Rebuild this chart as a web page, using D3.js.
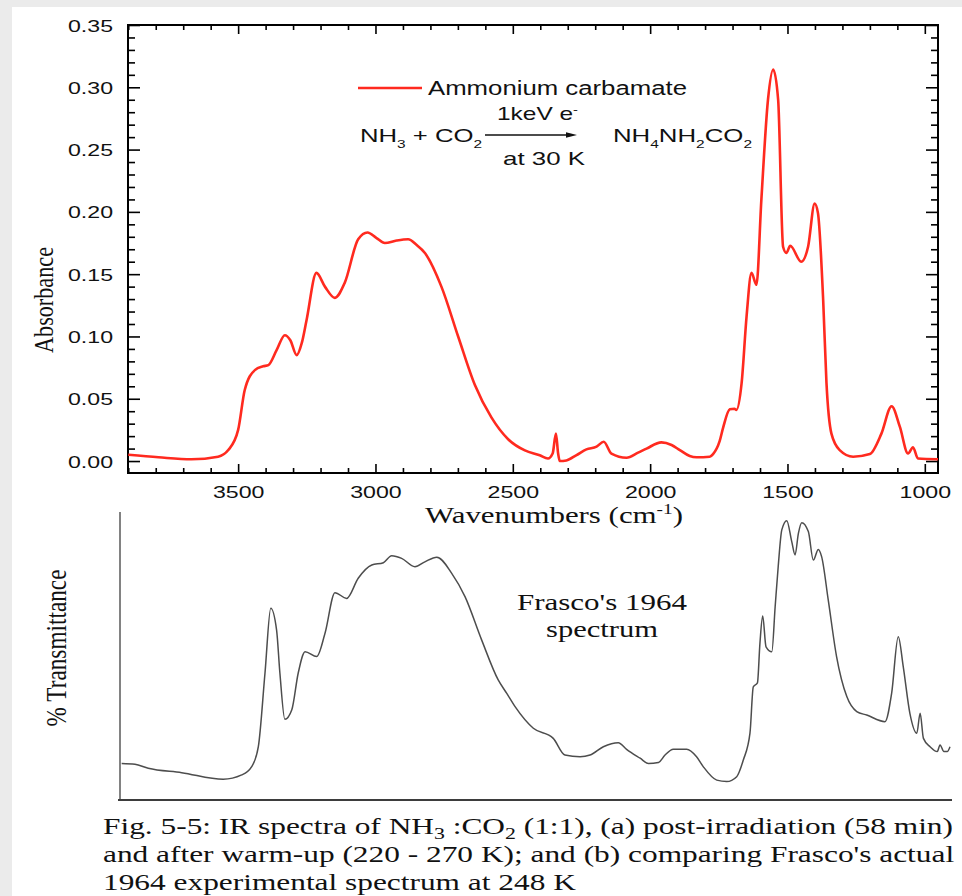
<!DOCTYPE html>
<html>
<head>
<meta charset="utf-8">
<script src="https://cdn.jsdelivr.net/npm/d3@7"></script>
<style>
  html, body { margin: 0; padding: 0; background: #ffffff; }
  svg { display: block; }
</style>
</head>
<body>
<script>
// ---------- DATA ----------
// (a) Ammonium carbamate spectrum: wavenumber (cm-1) and absorbance
const absWavenumber = [3900, 3790, 3670, 3573, 3536, 3500, 3476, 3439, 3409, 3390, 3360, 3330, 3310, 3287, 3268, 3251, 3215, 3184, 3148, 3112, 3063, 3029, 2996, 2966, 2923, 2881, 2851, 2820, 2760, 2699, 2638, 2578, 2517, 2456, 2402, 2372, 2355, 2343, 2335, 2329, 2305, 2268, 2232, 2195, 2169, 2141, 2086, 2044, 2013, 1959, 1922, 1892, 1856, 1831, 1783, 1771, 1747, 1734, 1710, 1693, 1686, 1667, 1649, 1631, 1613, 1595, 1571, 1552, 1534, 1516, 1504, 1490, 1450, 1425, 1401, 1389, 1370, 1358, 1340, 1310, 1261, 1200, 1158, 1121, 1091, 1061, 1043, 1025, 952];
const absValue =      [0.005, 0.003, 0.0014, 0.0035, 0.0088, 0.025, 0.057, 0.073, 0.076, 0.077, 0.089, 0.101, 0.097, 0.085, 0.095, 0.113, 0.151, 0.140, 0.131, 0.143, 0.178, 0.1835, 0.179, 0.175, 0.177, 0.178, 0.1736, 0.167, 0.140, 0.100, 0.061, 0.035, 0.0175, 0.0085, 0.0046, 0.002, 0.006, 0.022, 0.006, 0.000, 0.0005, 0.0048, 0.0094, 0.0115, 0.0155, 0.006, 0.0027, 0.0067, 0.010, 0.015, 0.0129, 0.0088, 0.004, 0.003, 0.0035, 0.0056, 0.016, 0.027, 0.0415, 0.042, 0.041, 0.0625, 0.116, 0.151, 0.1415, 0.210, 0.290, 0.3143, 0.290, 0.172, 0.167, 0.1728, 0.160, 0.172, 0.2066, 0.199, 0.129, 0.0625, 0.022, 0.0088, 0.0035, 0.0056, 0.022, 0.044, 0.0276, 0.006, 0.011, 0.002, 0.0014];

// (b) Frasco's 1964 spectrum: approximate wavenumber and relative trace height (%)
const frascoWavenumber = [3994, 3946, 3898, 3777, 3627, 3560, 3524, 3500, 3476, 3455, 3434, 3422, 3404, 3379, 3356, 3331, 3289, 3259, 3223, 3181, 3139, 3090, 3048, 3018, 2982, 2934, 2898, 2855, 2801, 2753, 2693, 2633, 2602, 2572, 2506, 2434, 2392, 2337, 2301, 2253, 2199, 2169, 2120, 2090, 2054, 2030, 2000, 1952, 1916, 1892, 1843, 1807, 1771, 1747, 1723, 1711, 1696, 1687, 1677, 1665, 1644, 1632, 1621, 1608, 1590, 1572, 1560, 1548, 1536, 1512, 1494, 1476, 1464, 1440, 1410, 1373, 1337, 1301, 1235, 1211, 1187, 1169, 1145, 1120, 1108, 1096, 1072, 1046, 1036, 1022, 1010, 1000];
const frascoValue =      [12.7, 12.4, 11.0, 9.5, 7.2, 8.7, 11.6, 18.5, 44.0, 66.6, 59.0, 44.0, 28.0, 31.3, 44.0, 51.5, 49.8, 57.9, 72.0, 70.0, 77.0, 81.6, 82.4, 84.8, 83.9, 81.0, 82.7, 84.3, 78.7, 70.6, 55.6, 41.7, 37.0, 32.4, 24.9, 21.4, 15.6, 15.0, 15.6, 18.5, 19.9, 17.6, 14.5, 12.7, 13.0, 15.6, 17.6, 17.6, 15.0, 11.6, 6.9, 6.4, 8.1, 13.9, 23.2, 39.3, 40.7, 54.4, 63.9, 53.2, 51.5, 67.1, 81.0, 93.8, 97.0, 89.7, 85.1, 92.6, 96.3, 93.2, 83.3, 87.0, 84.5, 69.4, 49.8, 35.9, 30.7, 29.5, 27.2, 37.0, 56.7, 46.3, 30.1, 23.2, 30.1, 21.4, 18.5, 16.8, 19.1, 16.8, 16.8, 18.5];

// Axis ticks
const yMajorTicks = [0.00, 0.05, 0.10, 0.15, 0.20, 0.25, 0.30, 0.35];
const yMinorTicks = [0.01, 0.02, 0.03, 0.04, 0.06, 0.07, 0.08, 0.09, 0.11, 0.12, 0.13, 0.14, 0.16, 0.17, 0.18, 0.19, 0.21, 0.22, 0.23, 0.24, 0.26, 0.27, 0.28, 0.29, 0.31, 0.32, 0.33, 0.34];
const xMajorTicks = [3500, 3000, 2500, 2000, 1500, 1000];
const xMinorTicks = [3900, 3800, 3700, 3600, 3400, 3300, 3200, 3100, 2900, 2800, 2700, 2600, 2400, 2300, 2200, 2100, 1900, 1800, 1700, 1600, 1400, 1300, 1200, 1100];

// Texts
const legendLabel = "Ammonium carbamate";
const xTitle = "Wavenumbers (cm";
const yTitleTop = "Absorbance";
const yTitleBottom = "% Transmittance";
const frascoLabel = ["Frasco's 1964", "spectrum"];

// ---------- LAYOUT ----------
const W = 962, H = 896;
const tp = { left: 128, right: 938, top: 25, bottom: 473 };
const bt = { left: 120, right: 950, top: 512, bottom: 800 };
const RED = "#ff2a1f";
const GREY = "#4d4d4d";
const SANS = "'Liberation Sans', Arial, sans-serif";
const SERIF = "'Liberation Serif', 'Times New Roman', serif";

const svg = d3.select("body").append("svg").attr("width", W).attr("height", H);

// faint slide background edges
svg.append("rect").attr("width", W).attr("height", H).attr("fill", "#ebebeb");
svg.append("rect").attr("x", 12).attr("y", 7).attr("width", W - 12).attr("height", H - 7).attr("fill", "#ffffff");

function stretch(sel, k) {
  sel.each(function () {
    const L = this.getComputedTextLength();
    this.setAttribute("textLength", L * k);
    this.setAttribute("lengthAdjust", "spacingAndGlyphs");
  });
}
function fitWidth(sel, w) {
  sel.each(function () {
    this.setAttribute("textLength", w);
    this.setAttribute("lengthAdjust", "spacingAndGlyphs");
  });
}

// ---------- TOP CHART ----------
const x = d3.scaleLinear().domain([3901, 952]).range([tp.left, tp.right]);
const y = d3.scaleLinear().domain([-0.0096, 0.35]).range([tp.bottom, tp.top]);

const gTop = svg.append("g");

function styleAxis(g) {
  g.select(".domain").remove();
  g.selectAll(".tick line").attr("stroke", "#000").attr("stroke-width", 1.6);
}
const fmt2 = d3.format(".2f");

gTop.append("g").attr("transform", `translate(${tp.left},0)`)
  .call(d3.axisLeft(y).tickValues(yMajorTicks).tickSize(-12).tickPadding(15).tickFormat(fmt2))
  .call(styleAxis)
  .call(g => g.selectAll("text").attr("font-family", SANS).attr("font-size", 17).attr("fill", "#111").attr("dy", "0.36em"));
gTop.append("g").attr("transform", `translate(${tp.left},0)`)
  .call(d3.axisLeft(y).tickValues(yMinorTicks).tickSize(-7).tickFormat(""))
  .call(styleAxis);
gTop.append("g").attr("transform", `translate(${tp.right},0)`)
  .call(d3.axisRight(y).tickValues(yMajorTicks).tickSize(-12).tickFormat(""))
  .call(styleAxis);
gTop.append("g").attr("transform", `translate(${tp.right},0)`)
  .call(d3.axisRight(y).tickValues(yMinorTicks).tickSize(-7).tickFormat(""))
  .call(styleAxis);

gTop.append("g").attr("transform", `translate(0,${tp.bottom})`)
  .call(d3.axisBottom(x).tickValues(xMajorTicks).tickSize(-9).tickPadding(13).tickFormat(d3.format("d")))
  .call(styleAxis)
  .call(g => g.selectAll("text").attr("font-family", SANS).attr("font-size", 17).attr("fill", "#111"));
gTop.append("g").attr("transform", `translate(0,${tp.bottom})`)
  .call(d3.axisBottom(x).tickValues(xMinorTicks).tickSize(-5).tickFormat(""))
  .call(styleAxis);
gTop.append("g").attr("transform", `translate(0,${tp.top})`)
  .call(d3.axisTop(x).tickValues(xMajorTicks).tickSize(-9).tickFormat(""))
  .call(styleAxis);
gTop.append("g").attr("transform", `translate(0,${tp.top})`)
  .call(d3.axisTop(x).tickValues(xMinorTicks).tickSize(-5).tickFormat(""))
  .call(styleAxis);

gTop.selectAll(".tick text").call(stretch, 1.36);

// frame
gTop.append("rect")
  .attr("x", tp.left).attr("y", tp.top)
  .attr("width", tp.right - tp.left).attr("height", tp.bottom - tp.top)
  .attr("fill", "none").attr("stroke", "#000").attr("stroke-width", 2);

// spectrum line
const absData = absWavenumber.map((w, i) => ({ w, v: absValue[i] }));
const lineTop = d3.line().x(d => x(d.w)).y(d => y(d.v)).curve(d3.curveMonotoneX);
gTop.append("path").datum(absData)
  .attr("d", lineTop).attr("fill", "none")
  .attr("stroke", RED).attr("stroke-width", 2.6).attr("stroke-linejoin", "round");

// axis titles
const xt = svg.append("text")
  .attr("x", 554).attr("y", 523).attr("text-anchor", "middle")
  .attr("font-family", SERIF).attr("font-size", 24).attr("fill", "#111");
xt.append("tspan").text(xTitle);
xt.append("tspan").attr("dy", -9).attr("font-size", 15).text("-1");
xt.append("tspan").attr("dy", 9).text(")");
fitWidth(xt, 258);

svg.append("text")
  .attr("transform", "translate(53,300) rotate(-90) scale(1,1.3)")
  .attr("text-anchor", "middle")
  .attr("font-family", SERIF).attr("font-size", 21).attr("fill", "#111")
  .text(yTitleTop).call(fitWidth, 106);

// legend
svg.append("line").attr("x1", 358).attr("x2", 422).attr("y1", 88).attr("y2", 88)
  .attr("stroke", RED).attr("stroke-width", 2.6);
svg.append("text").attr("x", 428).attr("y", 95)
  .attr("font-family", SANS).attr("font-size", 19.5).attr("fill", "#111")
  .text(legendLabel).call(fitWidth, 259);

// reaction equation
function chem(xp, yp, parts, width, fs) {
  const t = svg.append("text").attr("x", xp).attr("y", yp)
    .attr("font-family", SANS).attr("font-size", fs).attr("fill", "#111");
  let shift = 0;
  parts.forEach(p => {
    const target = p.sub ? 6 : (p.sup ? -7 : 0);
    t.append("tspan").attr("dy", target - shift)
      .attr("font-size", (p.sub || p.sup) ? fs * 0.6 : fs)
      .text(p.t);
    shift = target;
  });
  fitWidth(t, width);
  return t;
}
chem(360, 142, [{ t: "NH" }, { t: "3", sub: true }, { t: " + CO" }, { t: "2", sub: true }], 122, 18.5);
chem(613, 142, [{ t: "NH" }, { t: "4", sub: true }, { t: "NH" }, { t: "2", sub: true }, { t: "CO" }, { t: "2", sub: true }], 139, 18.5);
chem(497, 120, [{ t: "1keV e" }, { t: "-", sup: true }], 81, 18.5);
chem(503, 165, [{ t: "at 30 K" }], 82, 18.5);

svg.append("line").attr("x1", 485).attr("x2", 568).attr("y1", 135).attr("y2", 135)
  .attr("stroke", "#111").attr("stroke-width", 1.5);
svg.append("path").attr("d", "M566,132.2 L577,135 L566,137.8 Z").attr("fill", "#111");

// ---------- BOTTOM CHART (Frasco 1964) ----------
const xb = d3.scaleLinear().domain([4000, 1000]).range([bt.left, bt.right]);
const yb = d3.scaleLinear().domain([0, 100]).range([bt.bottom, bt.top]);

const gBot = svg.append("g");
gBot.append("line").attr("x1", bt.left).attr("x2", bt.left).attr("y1", bt.top).attr("y2", bt.bottom)
  .attr("stroke", GREY).attr("stroke-width", 1.4);
gBot.append("line").attr("x1", bt.left - 2).attr("x2", bt.right + 2).attr("y1", bt.bottom).attr("y2", bt.bottom)
  .attr("stroke", "#3d3d3d").attr("stroke-width", 2);

const frData = frascoWavenumber.map((w, i) => ({ w, v: frascoValue[i] }));
const lineBot = d3.line().x(d => xb(d.w)).y(d => yb(d.v)).curve(d3.curveMonotoneX);
gBot.append("path").datum(frData)
  .attr("d", lineBot).attr("fill", "none")
  .attr("stroke", GREY).attr("stroke-width", 1.5).attr("stroke-linejoin", "round");

svg.append("text")
  .attr("transform", "translate(66,648) rotate(-90) scale(1,1.3)")
  .attr("text-anchor", "middle")
  .attr("font-family", SERIF).attr("font-size", 22).attr("fill", "#111")
  .text(yTitleBottom).call(fitWidth, 157);

svg.append("text").attr("x", 602).attr("y", 610).attr("text-anchor", "middle")
  .attr("font-family", SERIF).attr("font-size", 23).attr("fill", "#111")
  .text(frascoLabel[0]).call(fitWidth, 170);
svg.append("text").attr("x", 602).attr("y", 637).attr("text-anchor", "middle")
  .attr("font-family", SERIF).attr("font-size", 23).attr("fill", "#111")
  .text(frascoLabel[1]).call(fitWidth, 112);

// ---------- CAPTION ----------
function captionLine(yp, parts) {
  const t = svg.append("text").attr("x", 103).attr("y", yp)
    .attr("font-family", SERIF).attr("font-size", 23).attr("fill", "#111");
  let shift = 0;
  parts.forEach(p => {
    const target = p.sub ? 5 : 0;
    t.append("tspan").attr("dy", target - shift)
      .attr("font-size", p.sub ? 16 : 23).text(p.t);
    shift = target;
  });
  return t;
}
const cap1 = captionLine(834, [
  { t: "Fig. 5-5: IR spectra of NH" }, { t: "3", sub: true }, { t: " :CO" }, { t: "2", sub: true },
  { t: " (1:1), (a) post-irradiation (58 min)" }]);
const cap2 = captionLine(862, [{ t: "and after warm-up (220 - 270 K); and (b) comparing Frasco's actual" }]);
const cap3 = captionLine(890, [{ t: "1964 experimental spectrum at 248 K" }]);
const L1 = cap1.node().getComputedTextLength();
const kCap = 850 / L1;
stretch(cap1, kCap);
stretch(cap2, kCap);
stretch(cap3, kCap);
</script>
</body>
</html>
